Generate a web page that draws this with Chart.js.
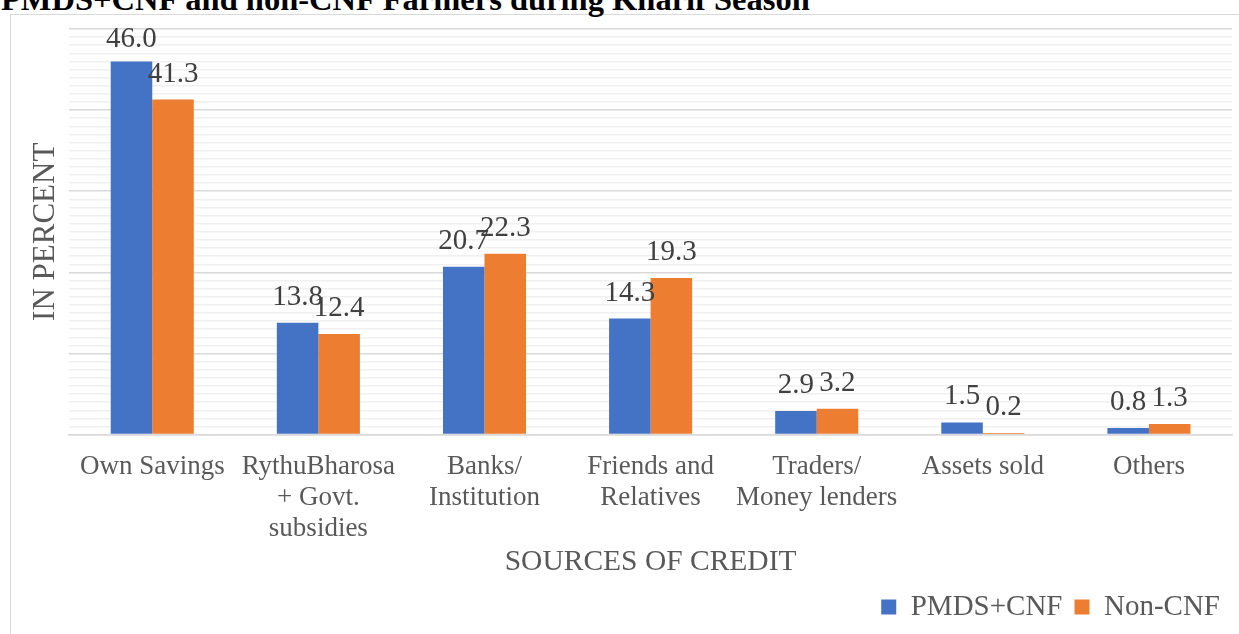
<!DOCTYPE html>
<html>
<head>
<meta charset="utf-8">
<script src="https://cdn.jsdelivr.net/npm/chart.js@4.4.1/dist/chart.umd.min.js"></script>
<style>
  html, body { margin: 0; padding: 0; background: #fff; overflow: hidden; }
  #wrap { position: relative; width: 1239px; height: 634px; overflow: hidden; }
  #frame { position: absolute; left: 10px; top: 14px; width: 1260px; height: 660px; border: 1px solid #d9d9d9; }
  #heading { position: absolute; left: 1px; top: -17px; font: bold 32.5px/1 'Liberation Serif', 'Times New Roman', serif; color: #000; white-space: nowrap; }
  #chart { position: absolute; left: 0; top: 0; }
</style>
</head>
<body>
<div id="wrap">
  <div id="frame"></div>
  <div id="heading">PMDS+CNF and non-CNF Farmers during Kharif Season</div>
  <canvas id="chart" width="1239" height="634"></canvas>
</div>
<script>
// sources of credit (multi-line tick labels)
const categories = [
  ['Own Savings'],
  ['RythuBharosa', '+ Govt.', 'subsidies'],
  ['Banks/', 'Institution'],
  ['Friends and', 'Relatives'],
  ['Traders/', 'Money lenders'],
  ['Assets sold'],
  ['Others']
];
const seriesNames = ['PMDS+CNF', 'Non-CNF'];
const pmdsCnf = [46.0, 13.8, 20.7, 14.3, 2.9, 1.5, 0.8];
const nonCnf = [41.3, 12.4, 22.3, 19.3, 3.2, 0.2, 1.3];

const serif = "'Liberation Serif', 'Times New Roman', serif";

// value labels above each bar, kept inside the plot area
const valueLabels = {
  id: 'valueLabels',
  afterDatasetsDraw(chart) {
    const ctx = chart.ctx;
    const top = chart.chartArea.top;
    ctx.save();
    ctx.font = '29px ' + serif;
    ctx.fillStyle = '#404040';
    ctx.textAlign = 'center';
    ctx.textBaseline = 'alphabetic';
    chart.data.datasets.forEach((ds, i) => {
      chart.getDatasetMeta(i).data.forEach((bar, j) => {
        const y = Math.max(bar.y - 18, top + 18);
        ctx.fillText(ds.data[j].toFixed(1), bar.x, y);
      });
    });
    ctx.restore();
  }
};

new Chart(document.getElementById('chart'), {
  type: 'bar',
  data: {
    labels: categories,
    datasets: [
      { label: seriesNames[0], data: pmdsCnf, backgroundColor: '#4472C4' },
      { label: seriesNames[1], data: nonCnf, backgroundColor: '#ED7D31' }
    ]
  },
  options: {
    responsive: false,
    animation: false,
    layout: { padding: { top: 29, right: 7, bottom: 2.5, left: 0 } },
    datasets: { bar: { barPercentage: 1, categoryPercentage: 0.5 } },
    scales: {
      x: {
        grid: { display: false },
        border: { color: '#d9d9d9', width: 1.5 },
        ticks: {
          color: '#595959',
          font: { family: serif, size: 27, lineHeight: 1.148 },
          padding: 9,
          maxRotation: 0,
          autoSkip: false
        },
        title: {
          display: true,
          text: 'SOURCES OF CREDIT',
          color: '#595959',
          font: { family: serif, size: 29.5, lineHeight: 1.2 },
          // tick padding is counted twice below the labels, pull the title back up
          padding: { top: -9, bottom: 0.5 }
        }
      },
      y: {
        min: 0,
        max: 50,
        border: { display: false },
        grid: {
          drawTicks: false,
          lineWidth: 1.5,
          color: c => (c.tick && c.tick.value % 10 === 0) ? '#d9d9d9' : '#f0f0f0'
        },
        ticks: { display: false, stepSize: 1 },
        title: {
          display: true,
          text: 'IN PERCENT',
          color: '#595959',
          font: { family: serif, size: 31, lineHeight: 1.2 },
          padding: { top: 27, bottom: 5 }
        }
      }
    },
    plugins: {
      legend: {
        position: 'bottom',
        align: 'end',
        labels: {
          color: '#595959',
          font: { family: serif, size: 29 },
          boxWidth: 15,
          boxHeight: 15,
          padding: 12
        }
      },
      tooltip: { enabled: false }
    }
  },
  plugins: [valueLabels]
});
</script>
</body>
</html>
